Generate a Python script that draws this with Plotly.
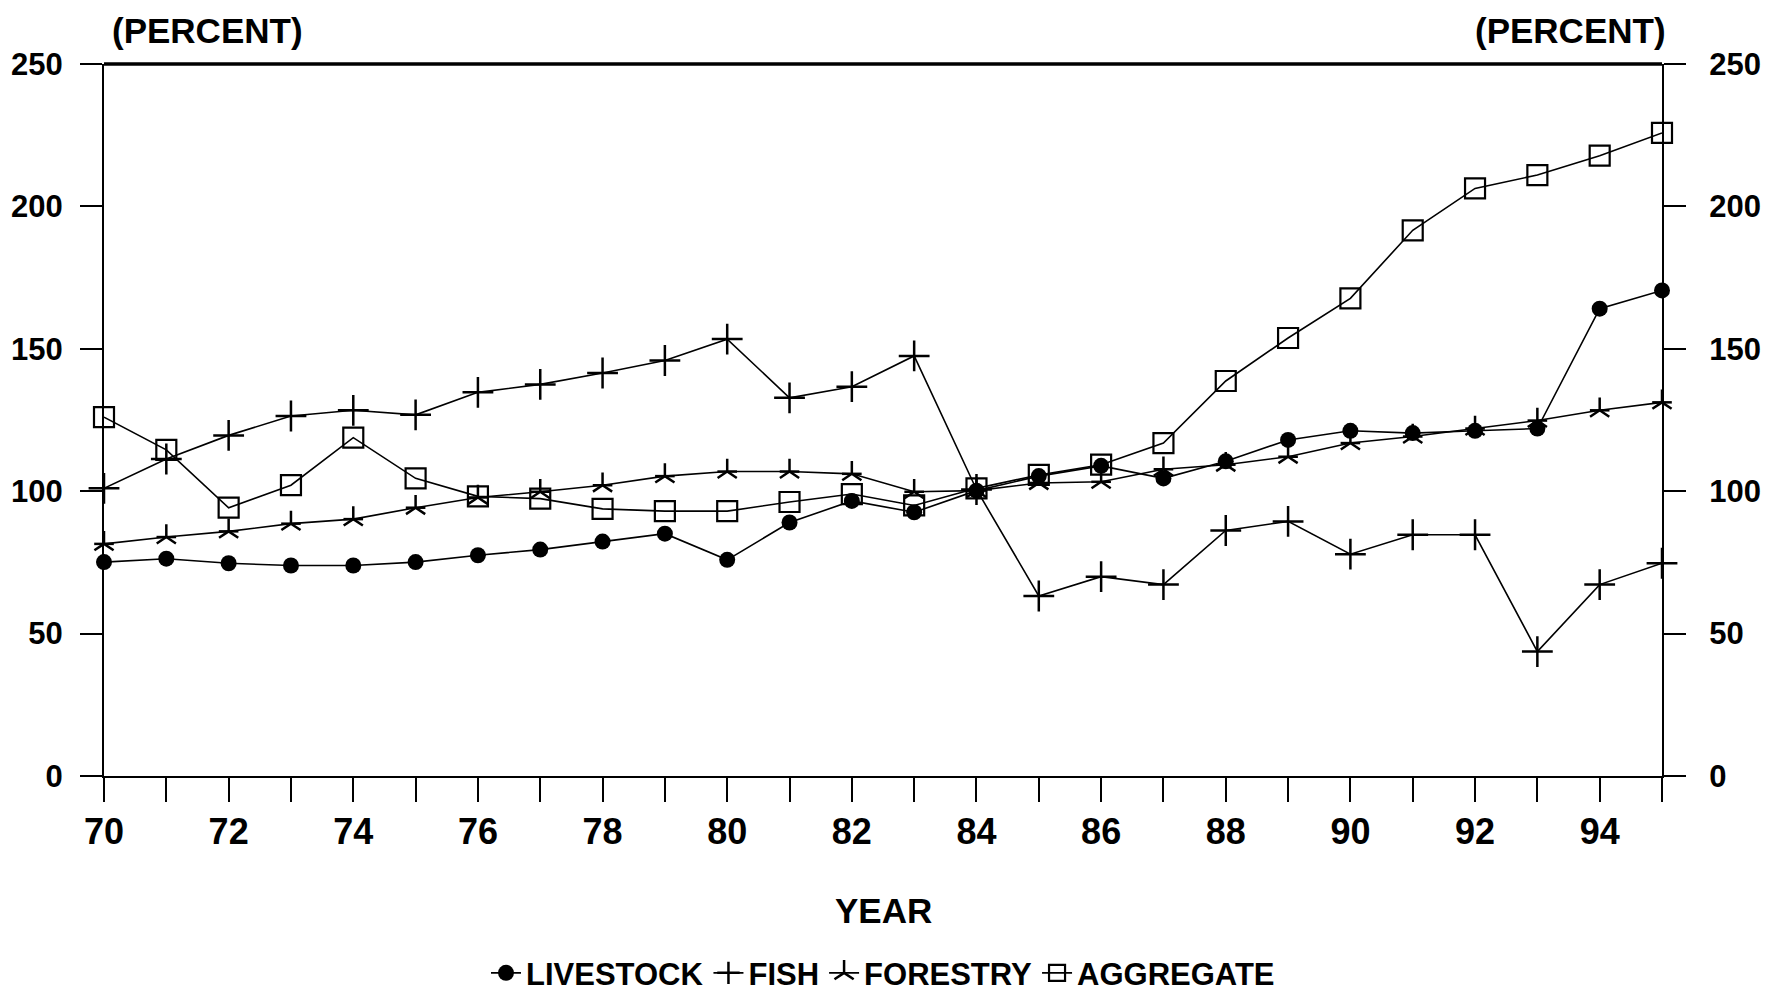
import plotly.graph_objects as go

years = list(range(70, 96))
year_labels = [str(y) if (y % 2 == 0 and y < 95) else "" for y in years]
y_ticks = [0, 50, 100, 150, 200, 250]

livestock = [75.1, 76.3, 74.7, 73.9, 73.9, 75.1, 77.5, 79.5, 82.3, 85.1, 75.9, 89.0, 96.6,
             92.6, 100.2, 105.3, 108.9, 104.5, 110.5, 118.0, 121.2, 120.4, 121.2, 122.0,
             164.1, 170.5]
fish = [101.0, 111.3, 119.6, 126.4, 128.4, 126.8, 134.7, 137.5, 141.5, 145.9, 153.4, 132.8,
        136.7, 147.5, 100.6, 63.2, 70.0, 67.2, 86.2, 89.4, 77.9, 84.7, 84.7, 43.7, 67.2, 74.7]
forestry = [81.5, 83.9, 85.9, 88.6, 90.2, 94.2, 97.8, 99.8, 102.1, 105.3, 106.9, 106.9,
            106.1, 99.8, 100.2, 102.9, 103.3, 107.7, 109.3, 112.1, 116.9, 119.2, 122.0,
            124.8, 128.4, 131.2]
aggregate = [126.0, 114.5, 94.2, 102.1, 118.8, 104.5, 98.2, 97.4, 93.8, 93.0, 93.0, 96.2,
             99.0, 95.0, 101.0, 105.7, 109.3, 116.9, 138.7, 153.8, 167.7, 191.6, 206.3,
             211.0, 217.8, 225.8]

FONT = "Liberation Sans, Arial, sans-serif"
BLACK = "#000000"

fig = go.Figure()

fig.add_trace(go.Scatter(
    x=years, y=livestock, name="<b>LIVESTOCK</b>", mode="lines+markers",
    line=dict(color=BLACK, width=1.6),
    marker=dict(symbol="circle", size=16, color=BLACK),
    cliponaxis=False))

fig.add_trace(go.Scatter(
    x=years, y=fish, name="<b>FISH</b>", mode="lines+markers",
    line=dict(color=BLACK, width=1.6),
    marker=dict(symbol="cross-thin-open", size=22, color=BLACK,
                line=dict(color=BLACK, width=2.5)),
    cliponaxis=False))

fig.add_trace(go.Scatter(
    x=years, y=forestry, name="<b>FORESTRY</b>", mode="lines+markers",
    legendgroup="forestry",
    line=dict(color=BLACK, width=1.6),
    marker=dict(symbol="y-up-open", size=16, color=BLACK,
                line=dict(color=BLACK, width=2.5)),
    cliponaxis=False))
fig.add_trace(go.Scatter(
    x=years, y=forestry, name="FORESTRY", mode="markers", showlegend=False,
    legendgroup="forestry",
    marker=dict(symbol="line-ew-open", size=14, color=BLACK,
                line=dict(color=BLACK, width=2.5)),
    cliponaxis=False))

fig.add_trace(go.Scatter(
    x=years, y=aggregate, name="<b>AGGREGATE</b>", mode="lines+markers",
    line=dict(color=BLACK, width=1.6),
    marker=dict(symbol="square-open", size=20, color=BLACK,
                line=dict(color=BLACK, width=2.2)),
    cliponaxis=False, yaxis="y2"))

fig.update_layout(
    width=1765, height=984,
    margin=dict(l=96, r=111, t=56, b=216, autoexpand=False),
    paper_bgcolor="white", plot_bgcolor="white",
    font=dict(family=FONT, size=31, color=BLACK),
    showlegend=True,
    legend=dict(orientation="h", x=0.5, xanchor="center", y=-0.277, yanchor="middle",
                font=dict(family=FONT, size=31, color=BLACK),
                itemwidth=30, tracegroupgap=0, bgcolor="rgba(0,0,0,0)"),
    xaxis=dict(range=[70, 95], tickvals=years, ticktext=["<b>%s</b>" % t if t else "" for t in year_labels],
               showgrid=False, zeroline=False,
               showline=True, linecolor=BLACK, linewidth=2,
               ticks="outside", ticklen=24, tickwidth=2, tickcolor=BLACK,
               tickfont=dict(family=FONT, size=36, color=BLACK),
               ticklabelstandoff=-1),
    yaxis=dict(range=[0, 250], tickvals=y_ticks, ticktext=["<b>%d</b>" % v for v in y_ticks],
               showgrid=False, zeroline=False,
               showline=True, linecolor=BLACK, linewidth=2,
               ticks="outside", ticklen=22, tickwidth=2, tickcolor=BLACK,
               tickfont=dict(family=FONT, size=31, color=BLACK),
               ticklabelstandoff=11),
    yaxis2=dict(range=[0, 250], tickvals=y_ticks, ticktext=["<b>%d</b>" % v for v in y_ticks],
                overlaying="y", side="right",
                showgrid=False, zeroline=False,
                showline=True, linecolor=BLACK, linewidth=2,
                ticks="outside", ticklen=22, tickwidth=2, tickcolor=BLACK,
                tickfont=dict(family=FONT, size=31, color=BLACK),
                ticklabelstandoff=17),
    shapes=[dict(type="line", xref="paper", yref="paper", x0=0.0, x1=1.0, y0=1, y1=1,
                 line=dict(color=BLACK, width=3.5))],
    annotations=[
        dict(text="<b>(PERCENT)</b>", xref="paper", yref="paper", x=0.0, y=1.0,
             xanchor="left", yanchor="middle", xshift=6, yshift=34,
             showarrow=False, font=dict(family=FONT, size=35, color=BLACK)),
        dict(text="<b>(PERCENT)</b>", xref="paper", yref="paper", x=1.0, y=1.0,
             xanchor="right", yanchor="middle", xshift=6, yshift=34,
             showarrow=False, font=dict(family=FONT, size=35, color=BLACK)),
        dict(text="<b>YEAR</b>", xref="paper", yref="paper", x=0.5, y=0.0,
             xanchor="center", yanchor="middle", yshift=-134,
             showarrow=False, font=dict(family=FONT, size=35, color=BLACK)),
    ],
)

fig.write_html("out.html")
